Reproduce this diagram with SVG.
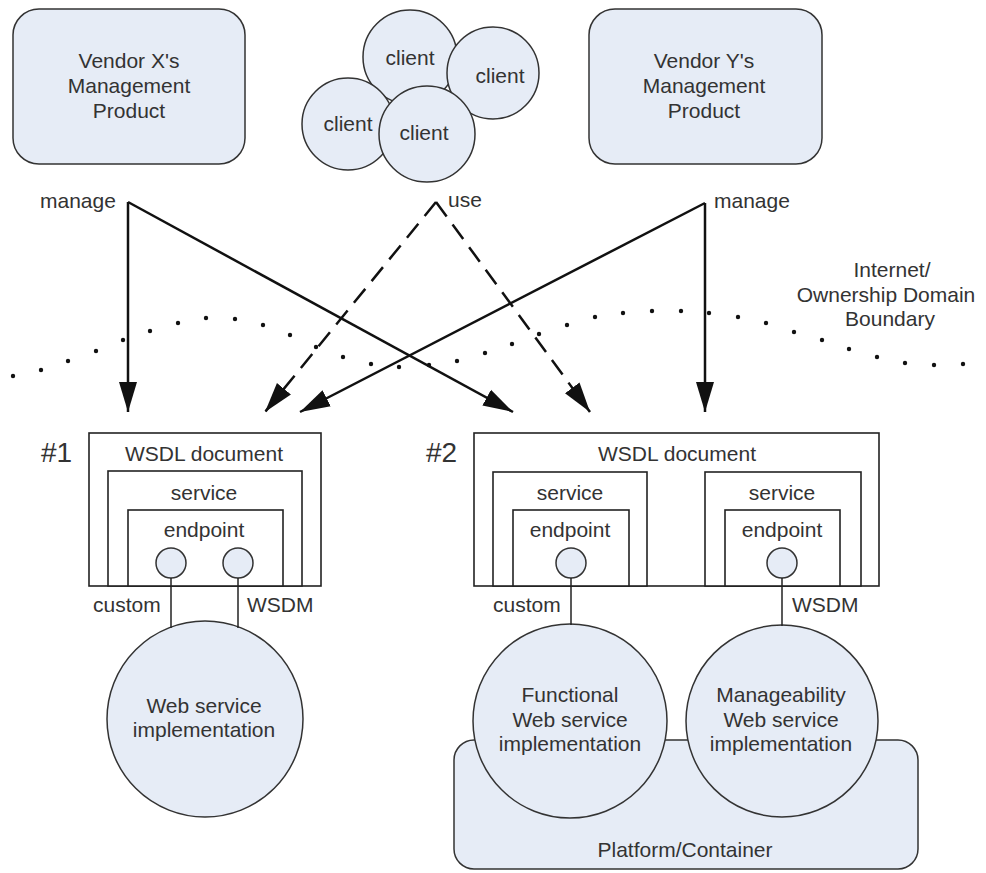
<svg xmlns="http://www.w3.org/2000/svg" width="986" height="873" viewBox="0 0 986 873">
<style>
.fill{fill:#E6ECF6;stroke:#333;stroke-width:1.5}
.box{fill:#fff;stroke:#222;stroke-width:1.6}
.t{font-family:"Liberation Sans",Arial,sans-serif;font-size:21px;fill:#333;text-anchor:middle}
.tl{font-family:"Liberation Sans",Arial,sans-serif;font-size:21px;fill:#333}
.big{font-family:"Liberation Sans",Arial,sans-serif;font-size:28px;fill:#333}
.ar{fill:none;stroke:#111;stroke-width:2.5}
.dash{stroke-dasharray:18 10}
.ln{stroke:#222;stroke-width:1.5}
.dot{fill:#111}
</style>
<defs>
<marker id="ah" viewBox="0 0 30 20" refX="30" refY="10" markerWidth="30" markerHeight="20" markerUnits="userSpaceOnUse" orient="auto">
<path d="M0,1 L30,10 L0,19 Z" fill="#111"/>
</marker>
</defs>
<rect width="986" height="873" fill="#fff"/>

<g id="boundary">
<g class="dot">
<circle cx="13" cy="376" r="2.2"/><circle cx="41" cy="370" r="2.2"/><circle cx="68" cy="361" r="2.2"/><circle cx="96" cy="351" r="2.2"/><circle cx="123" cy="340" r="2.2"/><circle cx="150" cy="331" r="2.2"/><circle cx="178" cy="323" r="2.2"/><circle cx="206" cy="318" r="2.2"/><circle cx="235" cy="319" r="2.2"/><circle cx="263" cy="325" r="2.2"/><circle cx="290" cy="335" r="2.2"/><circle cx="316" cy="347" r="2.2"/><circle cx="343" cy="357" r="2.2"/><circle cx="371" cy="364" r="2.2"/><circle cx="399" cy="367" r="2.2"/><circle cx="429" cy="365" r="2.2"/><circle cx="457" cy="361" r="2.2"/><circle cx="485" cy="353" r="2.2"/><circle cx="512" cy="344" r="2.2"/><circle cx="539" cy="334" r="2.2"/><circle cx="567" cy="325" r="2.2"/><circle cx="595" cy="317" r="2.2"/><circle cx="623" cy="313" r="2.2"/><circle cx="652" cy="311" r="2.2"/><circle cx="681" cy="311" r="2.2"/><circle cx="709" cy="313" r="2.2"/><circle cx="738" cy="317" r="2.2"/><circle cx="766" cy="323" r="2.2"/><circle cx="794" cy="332" r="2.2"/><circle cx="822" cy="340" r="2.2"/><circle cx="849" cy="349" r="2.2"/><circle cx="877" cy="357" r="2.2"/><circle cx="905" cy="363" r="2.2"/><circle cx="934" cy="365" r="2.2"/><circle cx="963" cy="364" r="2.2"/>
</g>
<text class="t" x="892" y="277">Internet/</text>
<text class="t" x="886" y="302">Ownership Domain</text>
<text class="t" x="890" y="326">Boundary</text>
</g>

<g id="vendorX">
<rect class="fill" x="13" y="9" width="232" height="155" rx="26"/>
<text class="t" x="129" y="68">Vendor X's</text>
<text class="t" x="129" y="93">Management</text>
<text class="t" x="129" y="118">Product</text>
</g>

<g id="vendorY">
<rect class="fill" x="589" y="9" width="233" height="155" rx="26"/>
<text class="t" x="704" y="68">Vendor Y's</text>
<text class="t" x="704" y="93">Management</text>
<text class="t" x="704" y="118">Product</text>
</g>

<g id="clients">
<circle class="fill" cx="410" cy="57" r="47"/>
<circle class="fill" cx="493" cy="73" r="46"/>
<circle class="fill" cx="348" cy="124" r="46"/>
<circle class="fill" cx="427" cy="134" r="48"/>
<text class="t" x="410" y="65">client</text>
<text class="t" x="500" y="83">client</text>
<text class="t" x="348" y="131">client</text>
<text class="t" x="424" y="140">client</text>
</g>

<g id="wsdl1">
<rect class="box" x="89" y="433" width="232" height="153"/>
<rect class="box" x="108" y="471" width="194" height="115"/>
<rect class="box" x="128" y="510" width="155" height="76"/>
<text class="big" x="41" y="462">#1</text>
<text class="t" x="204" y="461">WSDL document</text>
<text class="t" x="204" y="500">service</text>
<text class="t" x="204" y="537">endpoint</text>
<circle class="fill" cx="171" cy="563" r="15"/>
<circle class="fill" cx="238" cy="563" r="15"/>
<text class="tl" x="93" y="612">custom</text>
<text class="tl" x="247" y="612">WSDM</text>
</g>

<g id="impl1">
<circle class="fill" cx="205" cy="719" r="98"/>
<text class="t" x="204" y="713">Web service</text>
<text class="t" x="204" y="737">implementation</text>
</g>

<g id="wsdl2">
<rect class="box" x="474" y="433" width="405" height="153"/>
<rect class="box" x="493" y="472" width="154" height="114"/>
<rect class="box" x="513" y="510" width="116" height="76"/>
<rect class="box" x="705" y="472" width="156" height="114"/>
<rect class="box" x="725" y="510" width="115" height="76"/>
<text class="big" x="426" y="462">#2</text>
<text class="t" x="677" y="461">WSDL document</text>
<text class="t" x="570" y="500">service</text>
<text class="t" x="570" y="537">endpoint</text>
<text class="t" x="782" y="500">service</text>
<text class="t" x="782" y="537">endpoint</text>
<circle class="fill" cx="571" cy="563" r="15"/>
<circle class="fill" cx="782" cy="563" r="15"/>
<text class="tl" x="493" y="612">custom</text>
<text class="tl" x="792" y="612">WSDM</text>
</g>

<g id="platform">
<rect class="fill" x="454" y="740" width="464" height="129" rx="20"/>
<text class="t" x="685" y="857">Platform/Container</text>
</g>

<g id="impl2a">
<circle class="fill" cx="570" cy="721" r="97"/>
<text class="t" x="570" y="702">Functional</text>
<text class="t" x="570" y="727">Web service</text>
<text class="t" x="570" y="751">implementation</text>
</g>

<g id="impl2b">
<circle class="fill" cx="782" cy="721" r="96"/>
<text class="t" x="781" y="702">Manageability</text>
<text class="t" x="781" y="727">Web service</text>
<text class="t" x="781" y="751">implementation</text>
</g>

<g id="connectors">
<text class="tl" x="40" y="208">manage</text>
<text class="tl" x="448" y="207">use</text>
<text class="tl" x="714" y="208">manage</text>
<path class="ar" d="M128,202 L128,412" marker-end="url(#ah)"/>
<path class="ar" d="M128,202 L513,412" marker-end="url(#ah)"/>
<path class="ar dash" d="M436,202 L265,412" marker-end="url(#ah)"/>
<path class="ar dash" d="M436,202 L590,412" marker-end="url(#ah)"/>
<path class="ar" d="M705,203 L300,412" marker-end="url(#ah)"/>
<path class="ar" d="M705,203 L705,412" marker-end="url(#ah)"/>
<line class="ln" x1="171" y1="578" x2="171" y2="628"/>
<line class="ln" x1="238" y1="578" x2="238" y2="628"/>
<line class="ln" x1="571" y1="578" x2="571" y2="625"/>
<line class="ln" x1="782" y1="578" x2="782" y2="626"/>
</g>
</svg>
